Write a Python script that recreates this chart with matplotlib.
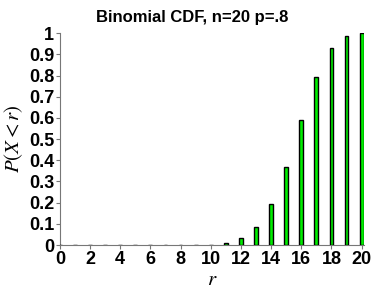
import matplotlib
matplotlib.use("Agg")
import matplotlib.pyplot as plt

r = list(range(0, 21))
cdf = [0.0, 0.0, 0.0, 0.0, 0.0, 0.0, 0.0, 0.0, 0.0001, 0.0006, 0.0026,
       0.0100, 0.0321, 0.0867, 0.1958, 0.3704, 0.5886, 0.7939, 0.9308, 0.9885, 1.0]
xticks = list(range(0, 21, 2))
yticks = [0, 0.1, 0.2, 0.3, 0.4, 0.5, 0.6, 0.7, 0.8, 0.9, 1]
yticklabels = ["0", "0.1", "0.2", "0.3", "0.4", "0.5", "0.6", "0.7", "0.8", "0.9", "1"]

plt.rcParams['font.family'] = ['Liberation Sans', 'DejaVu Sans']
plt.rcParams['mathtext.fontset'] = 'stix'

fig = plt.figure(figsize=(3.74, 2.88), dpi=100)
ax = fig.add_axes([0.160, 0.149, 0.813, 0.736])
ax.bar(r, cdf, width=0.25, color='#00ee00', edgecolor='black', linewidth=1.0, zorder=3)
ax.set_xlim(0, 20.15)
ax.set_ylim(0, 1)
ax.set_xticks(xticks)
ax.set_xticklabels([str(t) for t in xticks], fontsize=13, fontweight='bold')
ax.set_yticks(yticks)
ax.set_yticklabels(yticklabels, fontsize=13, fontweight='bold')
for s in ['top', 'right']:
    ax.spines[s].set_visible(False)
for s in ['left', 'bottom']:
    ax.spines[s].set_color('#777777')
ax.tick_params(direction='out', length=3, color='#777777', pad=1)
fig.text(0.513, 0.965, 'Binomial CDF, n=20 p=.8', fontsize=12, fontweight='bold',
         ha='center', va='top')
ax.set_xlabel('$r$', fontsize=15, labelpad=2)
ax.set_ylabel('$P(X < r)$', fontsize=15, labelpad=3)
fig.savefig('out.png', dpi=100)
